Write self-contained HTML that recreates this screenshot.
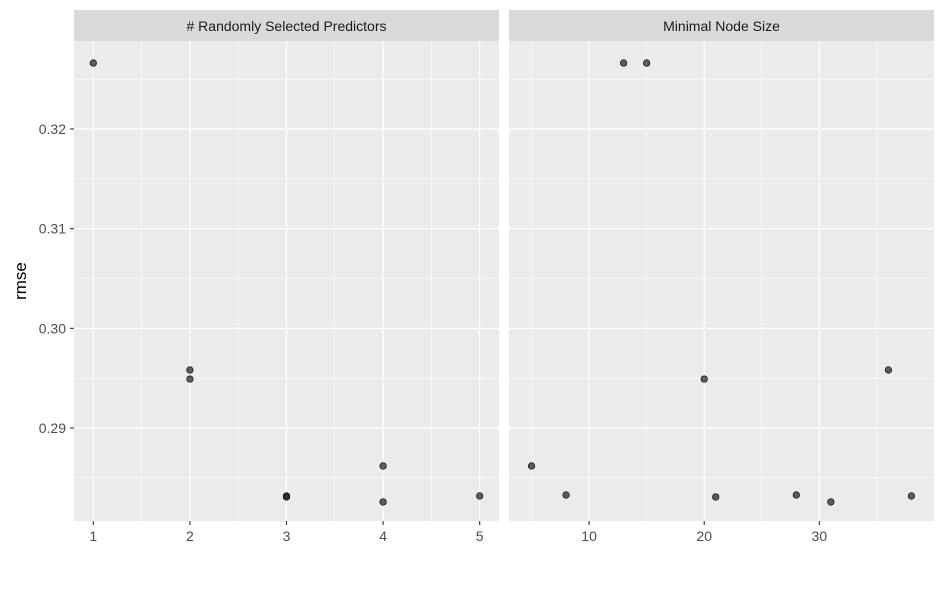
<!DOCTYPE html>
<html><head><meta charset="utf-8"><style>
body{margin:0;background:#fff;}
svg text{font-family:"Liberation Sans",sans-serif;}
</style></head><body>
<svg id="chart" width="944" height="584"></svg>
<script>
const yTicks=[0.29,0.30,0.31,0.32];
const yTickLabels=["0.29","0.30","0.31","0.32"];
const leftTicks=[1,2,3,4,5];
const rightTicks=[10,20,30];
const predX=[1,2,2,3,3,4,4,5];
const predY=[0.32662,0.29582,0.29491,0.28318,0.28308,0.28619,0.28258,0.28318];
const nodeX=[5,8,13,15,20,21,28,31,36,38];
const nodeY=[0.28619,0.28328,0.32662,0.32662,0.29491,0.28308,0.28328,0.28258,0.29582,0.28318];
const NS="http://www.w3.org/2000/svg";
const svg=document.getElementById('chart');
const pTop=41,pBot=521,yMin=0.28067,yMax=0.32883;
function y(v){return pBot-(v-yMin)/(yMax-yMin)*(pBot-pTop);}
function mk(t,a,p){const e=document.createElementNS(NS,t);for(const k in a)e.setAttribute(k,a[k]);(p||svg).appendChild(e);return e;}
const panels=[
 {x0:74,x1:499,title:"# Randomly Selected Predictors",dmin:0.8,dmax:5.2,ticks:leftTicks,minor:[1.5,2.5,3.5,4.5],xs:predX,ys:predY,name:"predictors"},
 {x0:509,x1:934,title:"Minimal Node Size",dmin:3.043,dmax:39.96,ticks:rightTicks,minor:[5,15,25,35],xs:nodeX,ys:nodeY,name:"node-size"}
];
panels.forEach(p=>{
 const fx=v=>p.x0+(v-p.dmin)/(p.dmax-p.dmin)*(p.x1-p.x0);
 const g=mk('g',{});
 
 
 mk('rect',{x:p.x0,y:pTop,width:p.x1-p.x0,height:pBot-pTop,fill:'#ebebeb'},g);
 const s=mk('rect',{x:p.x0,y:10,width:p.x1-p.x0,height:31,fill:'#d9d9d9'},g);
 
 
 const st=mk('text',{x:(p.x0+p.x1)/2,y:31,'text-anchor':'middle','font-size':14,fill:'#1a1a1a'},g);
 st.textContent=p.title;
 [0.285,0.295,0.305,0.315,0.325].forEach(v=>mk('line',{x1:p.x0,x2:p.x1,y1:y(v),y2:y(v),stroke:'#fff','stroke-width':0.6},g));
 p.minor.forEach(v=>mk('line',{x1:fx(v),x2:fx(v),y1:pTop,y2:pBot,stroke:'#fff','stroke-width':0.6},g));
 yTicks.forEach(v=>mk('line',{x1:p.x0,x2:p.x1,y1:y(v),y2:y(v),stroke:'#fff','stroke-width':1.2},g));
 p.ticks.forEach(v=>{
  mk('line',{x1:fx(v),x2:fx(v),y1:pTop,y2:pBot,stroke:'#fff','stroke-width':1.2},g);
  mk('line',{x1:fx(v),x2:fx(v),y1:pBot,y2:pBot+4,stroke:'#333','stroke-width':1.1},g);
  const t=mk('text',{x:fx(v),y:pBot+20,'text-anchor':'middle','font-size':14,fill:'#4d4d4d'},g);
  
  
  t.textContent=v;
 });
 p.xs.forEach((xv,i)=>{
  const c=mk('circle',{cx:fx(xv),cy:y(p.ys[i]),r:3.3,fill:'rgba(30,30,30,0.7)',stroke:'#000','stroke-width':0.6},g);
  
  
 });
});
yTicks.forEach((v,i)=>{
 mk('line',{x1:70,x2:74,y1:y(v),y2:y(v),stroke:'#333','stroke-width':1.1});
 const t=mk('text',{x:66,y:y(v)+5,'text-anchor':'end','font-size':14,fill:'#4d4d4d'});
 
 
 t.textContent=yTickLabels[i];
});
const yt=mk('text',{x:0,y:0,transform:'translate(26,281) rotate(-90)','text-anchor':'middle','font-size':17,fill:'#000'});


yt.textContent='rmse';
</script>
</body></html>
